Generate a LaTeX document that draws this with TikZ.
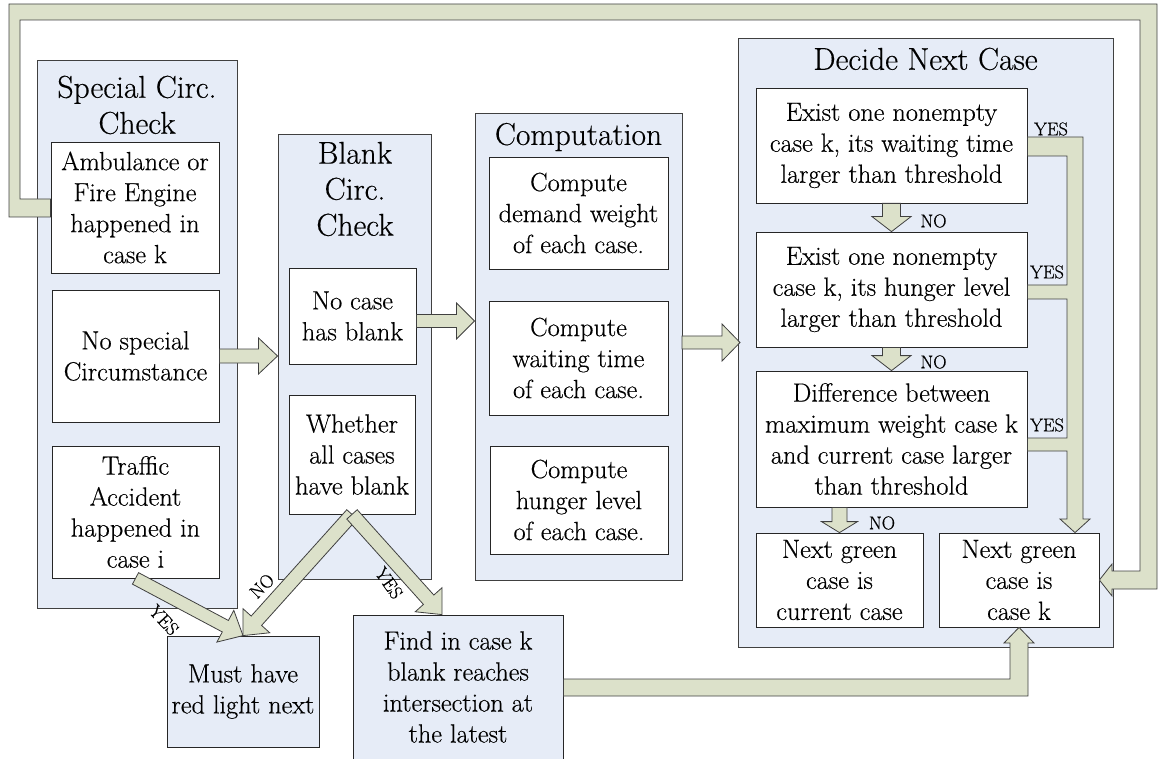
\documentclass[tikz,border=0pt]{standalone}
\usepackage{fontspec}
\setmainfont{Latin Modern Roman}[FakeBold=0.4]
\usetikzlibrary{calc}
\definecolor{frfill}{HTML}{E6ECF7}
\definecolor{arfill}{HTML}{DCE1CA}
\definecolor{lncol}{HTML}{404040}
\newcommand\bfnt{\fontsize{26.3}{31}\selectfont}
\newcommand\tfnt{\fontsize{31.5}{36}\selectfont}
\newcommand\lfnt{\fontsize{18.5}{20}\selectfont}
\tikzset{
  frame/.style={draw=lncol, fill=frfill, line width=0.9pt, inner sep=0pt},
  box/.style={draw=black!85, fill=white, line width=0.8pt, inner sep=1pt, align=center, font=\bfnt},
  ttl/.style={align=center, font=\tfnt, inner sep=0pt},
  lbl/.style={font=\lfnt, inner sep=0pt},
  barrowst/.style={fill=arfill, draw=lncol, line width=0.8pt, line join=miter},
}
% block arrow: start, end, shaft half width, head half width, head length
\newcommand\barr[5]{%
  \draw[barrowst] let \p1=(#1), \p2=(#2),
    \n1={atan2(\y2-\y1,\x2-\x1)}, \n2={veclen(\x2-\x1,\y2-\y1)-#5} in
    ($(\p1)+(\n1+90:#3)$) -- ($(\p1)+(\n1:\n2)+(\n1+90:#3)$) --
    ($(\p1)+(\n1:\n2)+(\n1+90:#4)$) -- (\p2) --
    ($(\p1)+(\n1:\n2)+(\n1-90:#4)$) -- ($(\p1)+(\n1:\n2)+(\n1-90:#3)$) --
    ($(\p1)+(\n1-90:#3)$) -- cycle;}
\begin{document}
\begin{tikzpicture}[x=1pt,y=-1pt]
\useasboundingbox (0,0) rectangle (1162,759);
% frames
\node[frame, minimum width=200pt, minimum height=548pt] (spf) at (137,334) {};
\node[frame, minimum width=153pt, minimum height=445pt] (blf) at (354.5,356.5) {};
\node[frame, minimum width=207pt, minimum height=467pt] (cof) at (578.5,346.5) {};
\node[frame, minimum width=375pt, minimum height=609pt] (dcf) at (925.5,342.5) {};
% titles
\node[ttl] (t1) at (137,105) {Special Circ.\\Check};
\node[ttl] (t2) at (355,189) {Blank\\Circ.\\Check};
\node[ttl] (t3) at (578.5,137) {Computation};
\node[ttl] (t4) at (925.5,59) {Decide Next Case};
% boxes
\node[box, minimum width=168pt, minimum height=131pt] (amb) at (135,207.5) {Ambulance or\\Fire Engine\\happened in\\case k};
\node[box, minimum width=167pt, minimum height=132pt] (nosp) at (135.5,356) {No special\\Circumstance};
\node[box, minimum width=167pt, minimum height=132pt] (traf) at (135.5,512) {Traffic\\Accident\\happened in\\case i};
\node[box, minimum width=127pt, minimum height=96pt] (nocase) at (352.5,316) {No case\\has blank};
\node[box, minimum width=126pt, minimum height=119pt] (whether) at (352,454.5) {Whether\\all cases\\have blank};
\node[box, minimum width=179pt, minimum height=112pt] (dem) at (578.5,213) {Compute\\demand weight\\of each case.};
\node[box, minimum width=179pt, minimum height=114pt] (wait) at (578.5,358) {Compute\\waiting time\\of each case.};
\node[box, minimum width=178pt, minimum height=108pt] (hung) at (579,500) {Compute\\hunger level\\of each case.};
\node[box, minimum width=271pt, minimum height=115pt] (ex1) at (891.5,145.5) {Exist one nonempty\\case k, its waiting time\\larger than threshold};
\node[box, minimum width=271pt, minimum height=115pt] (ex2) at (891.5,289.5) {Exist one nonempty\\case k, its hunger level\\larger than threshold};
\node[box, minimum width=271pt, minimum height=136pt] (diff) at (891.5,439) {Difference between\\maximum weight case k\\and current case larger\\than threshold};
\node[box, minimum width=167pt, minimum height=94pt] (ngc) at (839.5,580) {Next green\\case is\\current case};
\node[box, minimum width=160pt, minimum height=94pt] (ngk) at (1019,580) {Next green\\case is\\case k};
\node[box, fill=frfill, minimum width=152pt, minimum height=111pt] (must) at (243,691.5) {Must have\\red light next};
\node[box, fill=frfill, minimum width=210pt, minimum height=144pt] (find) at (458,687) {Find in case k\\blank reaches\\intersection at\\the latest};
% coordinates for arrows
\coordinate (a1e) at (nosp.east -| blf.west);
\coordinate (a2s) at ($(nocase.east)+(0,5)$);
\coordinate (a2e) at (a2s -| cof.west);
\coordinate (a3s) at (682,342.5);
\coordinate (a3e) at (740,342.5);
\coordinate (a6s) at (diff.south -| ngc.north);
\coordinate (yesend) at ($(find.north)+(-16,0)$);
% straight block arrows
\barr{nosp.east}{a1e}{7pt}{18pt}{19pt}
\barr{a2s}{a2e}{6.5pt}{18pt}{18pt}
\barr{a3s}{a3e}{6.5pt}{18.5pt}{18pt}
\barr{ex1.south}{ex2.north}{9pt}{19.5pt}{15pt}
\barr{ex2.south}{diff.north}{9pt}{19.5pt}{15pt}
\barr{a6s}{ngc.north}{7.5pt}{18pt}{11pt}
\barr{traf.south}{must.north}{6.5pt}{18pt}{20pt}
\barr{whether.south}{must.north}{7pt}{18pt}{20pt}
\barr{whether.south}{yesend}{7pt}{18pt}{20pt}
% merged YES arrow into "case k"
\draw[barrowst] (ex1.east |- 0,137) -- (1083,137) -- (1083,519) -- (1090,519) -- (ngk.north -| 1075,0) -- (1060,519) -- (1067,519)
  -- (1067,451) -- (diff.east |- 0,451) -- (diff.east |- 0,438) -- (1067,438) -- (1067,299) -- (ex2.east |- 0,299)
  -- (ex2.east |- 0,285) -- (1067,285) -- (1067,156) -- (ex1.east |- 0,156) -- cycle;
% big loop from ambulance box to "case k"
\draw[barrowst] (amb.west |- 0,199) -- (20,199) -- (20,20) -- (1140,20) -- (1140,571) -- (1112,571) -- (1112,564)
  -- (ngk.east) -- (1112,596) -- (1112,589) -- (1157,589) -- (1157,4) -- (9,4) -- (9,217) -- (amb.west |- 0,217) -- cycle;
% from "Find" to "case k"
\draw[barrowst] (find.east |- 0,679) -- (1010,679) -- (1010,643) -- (1004,643) -- (ngk.south) -- (1034,643) -- (1028,643)
  -- (1028,696) -- (find.east |- 0,696) -- cycle;
% labels
\node[lbl] (n1) at (933.5,221) {NO};
\node[lbl] (n2) at (933.5,362) {NO};
\node[lbl] (n3) at (882,523) {NO};
\node[lbl] (y1) at (1051,129) {YES};
\node[lbl] (y2) at (1047,272) {YES};
\node[lbl] (y3) at (1047,425) {YES};
\node[lbl, rotate=-47] (y4) at (164,620) {YES};
\node[lbl, rotate=45] (n4) at (262,586) {NO};
\node[lbl, rotate=-55] (y5) at (389,583) {YES};
\end{tikzpicture}
\end{document}
